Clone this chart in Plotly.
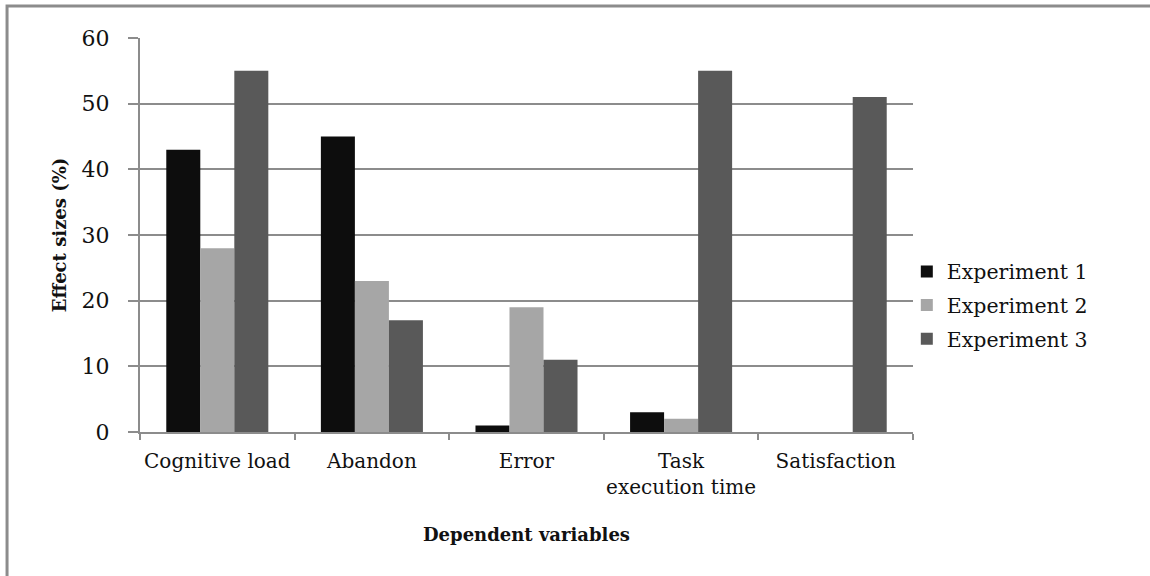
import plotly.graph_objects as go

categories = ["Cognitive load", "Abandon", "Error", "Task<br>execution time", "Satisfaction"]
exp1 = [43, 45, 1, 3, 0]
exp2 = [28, 23, 19, 2, 0]
exp3 = [55, 17, 11, 55, 51]
series_names = ["Experiment 1", "Experiment 2", "Experiment 3"]
colors = ["#0d0d0d", "#a6a6a6", "#595959"]
y_ticks = [0, 10, 20, 30, 40, 50, 60]

FONT = "DejaVu Serif"
GRID = "#8c8c8c"

fig = go.Figure()
for i, (name, vals, c) in enumerate(zip(series_names, [exp1, exp2, exp3], colors)):
    fig.add_trace(go.Bar(x=categories, y=vals, name=name, marker=dict(color=c, line=dict(width=0)),
                         legendgroup=f"g{i}"))

fig.update_layout(
    width=1150, height=576,
    margin=dict(l=140, r=237, t=38, b=144, autoexpand=False),
    paper_bgcolor="white", plot_bgcolor="white",
    barmode="group", bargap=0.34, bargroupgap=0,
    font=dict(family=FONT, color="#111111", size=20),
    showlegend=True,
    legend=dict(x=0.992, xanchor="left", y=0.322, yanchor="middle",
                font=dict(family=FONT, size=20.5, color="#111111"),
                traceorder="grouped", tracegroupgap=4, bgcolor="rgba(0,0,0,0)"),
    xaxis=dict(showline=True, linecolor=GRID, linewidth=2, tickson="boundaries",
               ticks="outside", ticklen=6, tickwidth=2, tickcolor=GRID, tickangle=0,
               automargin=False, ticklabelstandoff=10,
               tickfont=dict(family=FONT, size=20, color="#111111"),
               title=dict(text="<b>Dependent variables</b>", font=dict(family=FONT, size=18, color="#111111"),
                          standoff=30),
               showgrid=False),
    yaxis=dict(range=[0, 60], tickvals=y_ticks, showline=True, linecolor=GRID, linewidth=2,
               ticks="outside", ticklen=10, tickwidth=2, tickcolor=GRID, automargin=False,
               showgrid=True, gridcolor=GRID, gridwidth=2, zeroline=False,
               tickfont=dict(family=FONT, size=22, color="#111111"), ticklabelstandoff=14,
               title=dict(text="<b>Effect sizes (%)</b>", font=dict(family=FONT, size=18, color="#111111"),
                          standoff=10)),
)

fig.add_shape(type="rect", xref="paper", yref="paper",
              x0=-0.172, x1=1.4, y0=-0.6, y1=1.081,
              line=dict(color="#8c8c8c", width=3), fillcolor="rgba(0,0,0,0)", layer="below")

fig.write_html("out.html", config={"displayModeBar": False},
               post_script="document.body.style.margin='0';document.body.style.overflow='hidden';")
